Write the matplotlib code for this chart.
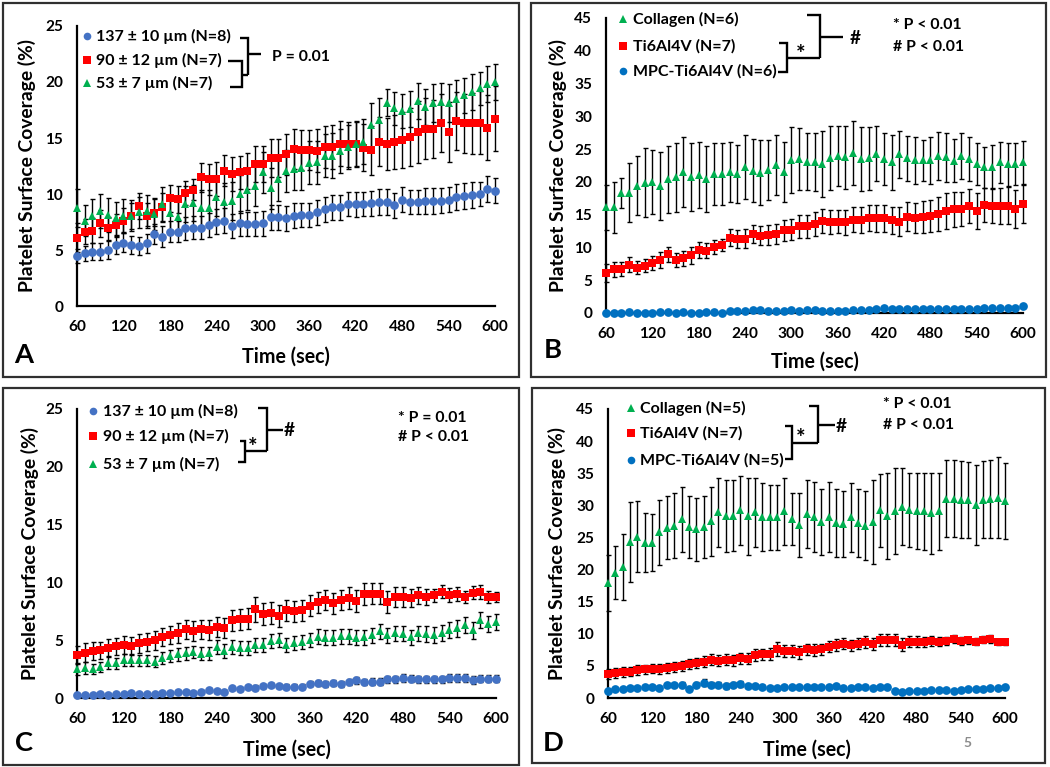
import matplotlib
matplotlib.use("Agg")
import matplotlib.pyplot as plt
from matplotlib.lines import Line2D
from matplotlib.patches import Rectangle

W, H = 1050, 767

TIME = list(range(60, 610, 10))
X_TICKS = [60, 120, 180, 240, 300, 360, 420, 480, 540, 600]

# ---- Panel A: pore size, 137 / 90 / 53 um ----
a_137 = [4.46, 4.7, 4.85, 4.85, 5.0, 5.45, 5.65, 5.45, 5.36, 5.6,
         6.4, 6.2, 6.64, 6.64, 6.93, 7.0, 7.0, 7.23, 7.53, 7.62,
         7.14, 7.38, 7.32, 7.32, 7.38, 7.92, 7.92, 7.83, 8.07, 8.12,
         8.12, 8.36, 8.63, 8.8, 8.8, 9.1, 9.08, 9.1, 9.17, 9.3,
         9.29, 9.0, 9.5, 9.3, 9.3, 9.4, 9.4, 9.4, 9.5, 9.76,
         9.8, 9.9, 10.0, 10.45, 10.3]
a_137_err = [0.65, 0.7, 0.75, 0.75, 0.8, 0.8, 0.85, 0.8, 0.8, 0.85,
             0.9, 0.9, 0.95, 0.95, 1.0, 1.0, 1.0, 1.05, 1.1, 1.1,
             1.05, 1.1, 1.1, 1.05, 1.1, 1.1, 1.1, 1.1, 1.1, 1.1,
             1.1, 1.1, 1.1, 1.1, 1.1, 1.1, 1.1, 1.1, 1.1, 1.15,
             1.15, 1.1, 1.15, 1.1, 1.1, 1.15, 1.15, 1.1, 1.1, 1.15,
             1.15, 1.15, 1.1, 1.2, 1.1]
# same data in A (90 um) and B (Ti6Al4V)
ti_ab = [6.1, 6.64, 6.73, 7.38, 6.93, 7.2, 7.62, 8.04, 8.93, 8.07,
         8.33, 8.8, 9.6, 9.52, 10.1, 10.4, 11.5, 11.3, 11.34, 12.08,
         11.8, 11.93, 12.05, 12.65, 12.68, 13.2, 13.2, 13.54, 14.0, 13.9,
         13.93, 13.87, 14.2, 14.2, 14.5, 14.43, 14.43, 14.14, 13.9, 14.67,
         14.46, 14.67, 14.8, 15.06, 15.54, 15.83, 15.83, 16.37, 15.54, 16.5,
         16.3, 16.3, 16.37, 15.9, 16.7]
ti_ab_err = [1.3, 1.1, 1.1, 1.2, 1.0, 1.0, 1.1, 1.2, 1.2, 1.1,
             1.2, 1.3, 1.2, 1.2, 1.1, 0.9, 1.3, 1.4, 1.5, 1.4,
             1.5, 1.5, 1.6, 1.6, 1.6, 1.7, 1.7, 1.8, 1.8, 1.8,
             1.8, 1.9, 1.9, 2.0, 2.0, 2.0, 2.0, 2.1, 2.2, 2.2,
             2.3, 2.4, 2.5, 2.6, 2.8, 2.7, 2.6, 2.6, 2.7, 2.6,
             2.6, 2.7, 2.8, 2.9, 2.9]
a_53 = [8.72, 7.62, 8.04, 8.5, 8.12, 7.83, 8.07, 8.07, 8.36, 8.5,
        8.2, 9.1, 8.27, 7.98, 9.1, 9.17, 8.72, 8.72, 9.7, 9.3,
        9.4, 9.97, 10.36, 10.74, 11.93, 10.5, 11.3, 12.05, 12.23, 12.3,
        12.8, 12.83, 13.42, 13.42, 13.84, 14.2, 14.5, 14.67, 16.16, 16.6,
        18.15, 17.65, 17.4, 17.56, 18.33, 17.8, 18.1, 18.24, 18.1, 18.45,
        18.8, 19.14, 19.43, 19.8, 20.0]
a_53_err = [1.7, 1.4, 1.5, 1.5, 1.5, 1.5, 1.5, 1.4, 1.4, 1.4,
            1.4, 1.5, 1.5, 1.6, 1.6, 1.6, 1.6, 1.6, 1.7, 1.7,
            1.7, 1.7, 1.8, 1.8, 1.8, 1.8, 1.9, 1.9, 1.9, 1.9,
            1.9, 1.9, 1.9, 2.0, 2.0, 2.0, 2.0, 2.0, 2.0, 2.0,
            1.2, 1.5, 1.5, 1.6, 1.6, 1.6, 1.7, 1.7, 1.7, 1.7,
            1.6, 1.6, 1.5, 1.6, 1.6]

# ---- Panel B: collagen / Ti6Al4V / MPC-Ti6Al4V ----
b_col = [16.1, 16.1, 18.35, 18.35, 19.4, 19.9, 20.0, 19.4, 20.4, 20.7,
         21.5, 20.8, 21.05, 20.4, 21.2, 21.2, 21.56, 21.2, 22.3, 21.7,
         21.4, 21.8, 22.6, 21.5, 23.3, 23.45, 23.1, 23.0, 22.7, 23.6,
         23.95, 23.75, 24.46, 23.5, 23.6, 24.26, 23.5, 23.0, 24.2, 23.6,
         23.3, 23.3, 23.3, 23.95, 23.75, 23.24, 24.0, 23.5, 22.7, 22.2,
         22.3, 23.0, 22.7, 22.7, 23.0]
b_col_err = [3.5, 3.9, 2.3, 4.5, 4.5, 5.2, 4.9, 5.2, 5.1, 5.3,
             5.4, 5.2, 5.1, 5.0, 4.8, 4.8, 4.6, 4.4, 4.9, 4.8,
             5.0, 4.6, 4.6, 4.6, 5.0, 4.7, 4.3, 4.4, 5.0, 4.9,
             4.6, 4.8, 4.9, 4.9, 4.8, 4.2, 3.9, 4.2, 3.6, 3.4,
             3.6, 3.1, 3.6, 3.7, 3.7, 3.3, 3.5, 3.4, 3.2, 3.1,
             3.3, 3.1, 3.3, 3.2, 3.3]
b_mpc = [0.0, 0.05, 0.0, 0.1, 0.05, 0.05, 0.05, 0.1, 0.1, 0.05,
         0.1, 0.05, 0.05, 0.15, 0.15, 0.05, 0.3, 0.3, 0.35, 0.4,
         0.4, 0.35, 0.35, 0.35, 0.4, 0.3, 0.4, 0.4, 0.35, 0.35,
         0.3, 0.3, 0.4, 0.4, 0.45, 0.6, 0.7, 0.6, 0.6, 0.6,
         0.6, 0.65, 0.65, 0.65, 0.65, 0.65, 0.65, 0.65, 0.65, 0.7,
         0.8, 0.8, 0.75, 0.8, 1.0]
b_mpc_err = [0.05, 0.05, 0.05, 0.05, 0.05, 0.05, 0.05, 0.05, 0.05, 0.05,
             0.05, 0.05, 0.05, 0.1, 0.1, 0.05, 0.1, 0.1, 0.1, 0.1,
             0.1, 0.1, 0.1, 0.1, 0.1, 0.1, 0.1, 0.1, 0.1, 0.1,
             0.1, 0.1, 0.1, 0.1, 0.1, 0.1, 0.1, 0.1, 0.1, 0.1,
             0.1, 0.1, 0.1, 0.1, 0.1, 0.1, 0.1, 0.1, 0.1, 0.1,
             0.1, 0.1, 0.1, 0.1, 0.1]

# ---- Panel C: pore size, second set ----
c_137 = [0.26, 0.26, 0.26, 0.32, 0.26, 0.37, 0.37, 0.4, 0.32, 0.37,
         0.37, 0.46, 0.46, 0.52, 0.52, 0.46, 0.52, 0.69, 0.6, 0.55,
         0.84, 0.75, 0.95, 0.89, 1.04, 1.12, 1.04, 0.98, 0.98, 0.98,
         1.24, 1.27, 1.18, 1.27, 1.24, 1.41, 1.53, 1.38, 1.41, 1.41,
         1.61, 1.61, 1.76, 1.67, 1.61, 1.61, 1.61, 1.61, 1.76, 1.76,
         1.76, 1.53, 1.67, 1.67, 1.67]
c_137_err = [0.1, 0.1, 0.1, 0.1, 0.1, 0.1, 0.1, 0.1, 0.1, 0.1,
             0.1, 0.1, 0.1, 0.1, 0.15, 0.15, 0.15, 0.15, 0.15, 0.15,
             0.15, 0.15, 0.2, 0.2, 0.2, 0.2, 0.2, 0.2, 0.2, 0.2,
             0.2, 0.25, 0.25, 0.25, 0.25, 0.25, 0.3, 0.25, 0.3, 0.3,
             0.3, 0.3, 0.35, 0.3, 0.3, 0.3, 0.3, 0.3, 0.35, 0.35,
             0.35, 0.35, 0.3, 0.3, 0.3]
# same data in C (90 um) and D (Ti6Al4V)
ti_cd = [3.72, 3.92, 4.06, 4.12, 4.35, 4.46, 4.58, 4.49, 4.72, 4.84,
         4.98, 5.27, 5.44, 5.65, 5.93, 5.79, 5.93, 5.88, 6.16, 6.08,
         6.71, 6.8, 6.85, 7.66, 7.29, 7.37, 7.09, 7.57, 7.49, 7.57,
         8.0, 8.29, 8.47, 8.18, 8.47, 8.67, 8.38, 9.01, 9.01, 9.01,
         8.32, 8.76, 8.76, 8.67, 8.87, 8.73, 8.87, 9.19, 8.9, 8.96,
         8.73, 9.1, 9.19, 8.73, 8.73]
ti_cd_err = [0.8, 0.8, 0.75, 0.75, 0.75, 0.75, 0.75, 0.8, 0.8, 0.8,
             0.8, 0.8, 0.8, 0.85, 0.85, 0.85, 0.85, 0.85, 0.85, 0.85,
             0.9, 0.9, 0.9, 1.05, 0.95, 0.95, 0.95, 0.9, 0.9, 0.9,
             0.9, 0.9, 0.9, 0.9, 0.9, 0.95, 0.95, 0.95, 0.9, 0.9,
             0.95, 0.85, 0.85, 0.8, 0.75, 0.7, 0.6, 0.55, 0.6, 0.6,
             0.55, 0.55, 0.6, 0.5, 0.45]
c_53 = [2.53, 2.59, 2.53, 2.68, 3.05, 3.0, 3.28, 3.28, 3.25, 3.25,
        3.14, 3.46, 3.63, 3.77, 3.86, 3.97, 3.83, 3.86, 4.41, 4.06,
        4.44, 4.35, 4.35, 4.58, 4.58, 4.93, 4.98, 4.58, 4.78, 4.87,
        5.01, 5.3, 5.21, 5.21, 5.36, 5.36, 5.21, 5.27, 5.44, 5.79,
        5.44, 5.59, 5.56, 5.27, 5.59, 5.56, 5.44, 5.65, 5.85, 6.02,
        6.28, 5.85, 6.74, 6.37, 6.57]
c_53_err = [0.5, 0.5, 0.45, 0.45, 0.5, 0.5, 0.5, 0.5, 0.5, 0.5,
            0.5, 0.55, 0.55, 0.55, 0.55, 0.55, 0.55, 0.55, 0.6, 0.6,
            0.6, 0.6, 0.6, 0.6, 0.6, 0.6, 0.6, 0.6, 0.6, 0.6,
            0.6, 0.65, 0.65, 0.65, 0.65, 0.65, 0.65, 0.65, 0.65, 0.65,
            0.65, 0.65, 0.65, 0.65, 0.65, 0.7, 0.7, 0.7, 0.7, 0.7,
            0.7, 0.75, 0.7, 0.7, 0.7]

# ---- Panel D: collagen / Ti6Al4V / MPC-Ti6Al4V, second set ----
d_col = [17.9, 19.5, 20.4, 24.3, 25.1, 24.2, 24.2, 25.8, 26.5, 26.85,
         27.8, 26.6, 26.3, 26.6, 27.5, 28.9, 28.3, 28.4, 29.2, 28.3,
         28.9, 28.15, 28.15, 28.15, 29.1, 27.9, 26.9, 28.6, 28.15, 27.4,
         28.15, 27.2, 27.1, 28.15, 27.2, 26.85, 27.4, 29.2, 28.4, 29.1,
         29.8, 29.3, 29.1, 29.1, 28.8, 29.1, 31.0, 31.0, 30.9, 30.8,
         30.1, 30.9, 31.0, 31.2, 30.7]
d_col_err = [4.3, 4.1, 5.1, 6.2, 5.5, 4.6, 4.4, 5.1, 4.9, 5.1,
             5.1, 4.8, 4.9, 4.8, 5.4, 5.4, 5.6, 5.5, 5.4, 6.0,
             5.4, 5.25, 5.05, 5.05, 5.2, 4.0, 5.0, 5.3, 5.45, 5.2,
             5.45, 5.3, 5.2, 5.35, 5.3, 5.35, 6.6, 5.7, 6.7, 6.7,
             6.0, 5.8, 5.9, 6.0, 6.3, 6.0, 6.0, 6.0, 6.0, 5.9,
             6.2, 6.0, 6.1, 6.3, 5.9]
d_mpc = [1.09, 1.35, 1.45, 1.6, 1.6, 1.76, 1.76, 1.6, 1.97, 1.97,
         2.1, 1.35, 2.1, 2.4, 2.1, 2.1, 1.87, 2.1, 2.2, 1.87,
         1.87, 1.7, 1.6, 1.5, 1.76, 1.7, 1.7, 1.7, 1.76, 1.7,
         1.76, 1.87, 1.6, 1.6, 1.7, 1.76, 1.6, 1.7, 1.76, 1.09,
         0.98, 1.09, 1.09, 1.09, 1.24, 1.2, 1.24, 1.09, 1.24, 1.35,
         1.45, 1.45, 1.5, 1.5, 1.76]
d_mpc_err = [0.15, 0.15, 0.2, 0.2, 0.2, 0.25, 0.25, 0.25, 0.3, 0.3,
             0.35, 0.2, 0.45, 0.5, 0.45, 0.45, 0.4, 0.45, 0.45, 0.3,
             0.3, 0.25, 0.2, 0.2, 0.25, 0.2, 0.2, 0.2, 0.2, 0.2,
             0.2, 0.2, 0.2, 0.2, 0.2, 0.2, 0.2, 0.2, 0.2, 0.15,
             0.1, 0.1, 0.1, 0.1, 0.1, 0.1, 0.1, 0.1, 0.1, 0.1,
             0.1, 0.1, 0.1, 0.1, 0.1]

SIZE_LABELS_AC = ["137 ± 10 µm (N=8)", "90 ± 12 µm (N=7)", "53 ± 7 µm (N=7)"]
SURF_LABELS_B = ["Collagen (N=6)", "Ti6Al4V (N=7)", "MPC-Ti6Al4V (N=6)"]
SURF_LABELS_D = ["Collagen (N=5)", "Ti6Al4V (N=7)", "MPC-Ti6Al4V (N=5)"]

BLUE_AC = "#4472C4"
BLUE_BD = "#0070C0"
RED = "#FF0000"
GREEN = "#00B050"

plt.rcParams["font.family"] = ["Lato", "DejaVu Sans"]
plt.rcParams["font.weight"] = "bold"

fig = plt.figure(figsize=(W / 100, H / 100), dpi=100)
_renderer = fig.canvas.get_renderer()


def fit_size(s, target_px, base=10.0):
    """Font size that makes string s about target_px wide."""
    t = fig.text(0, 0, s, fontsize=base, fontweight="bold")
    w = t.get_window_extent(renderer=_renderer).width
    t.remove()
    return base * target_px / w


# text sizes matched to widths measured in the reference
LEGEND_SIZE = fit_size("137 ± 10 µm (N=8)", 135)
TICK_SIZE = fit_size("600", 27)
YLAB_SIZE = fit_size("Platelet Surface Coverage (%)", 253)
XLAB_SIZE = fit_size("Time (sec)", 88)
PTEXT_SIZE = fit_size("# P < 0.01", 71)
LETTER_SIZE = fit_size("A", 19)


def fx(x):
    return x / W


def fy(y):
    return 1 - y / H


def polyline(pts, lw=1.7):
    fig.add_artist(Line2D([fx(p[0]) for p in pts], [fy(p[1]) for p in pts],
                          transform=fig.transFigure, color="black", lw=lw,
                          solid_joinstyle="miter", solid_capstyle="butt"))


def ftext(x, y, s, size=None, ha="left", **kw):
    fig.text(fx(x), fy(y), s, ha=ha, va="center",
             fontsize=LEGEND_SIZE if size is None else size,
             fontweight="bold", **kw)


def make_axes(left, right, top, bottom, ymax, ystep):
    ax = fig.add_axes([fx(left), fy(bottom), (right - left) / W, (bottom - top) / H])
    ax.set_xlim(60, 600)
    ax.set_ylim(0, ymax)
    ax.set_xticks(X_TICKS)
    ax.set_yticks(list(range(0, ymax + 1, ystep)))
    for s in ["top", "right"]:
        ax.spines[s].set_visible(False)
    for s in ["left", "bottom"]:
        ax.spines[s].set_linewidth(1.6)
    ax.tick_params(length=0, labelsize=TICK_SIZE, pad=10)
    ax.patch.set_alpha(0)
    return ax


def draw_series(ax, y, err, color, marker, ms):
    # Excel-style: error bars behind the markers
    ax.errorbar(TIME, y, yerr=err, fmt="none", ecolor="black", elinewidth=1.0,
                capsize=1.8, capthick=1.0, zorder=2, clip_on=False)
    ax.plot(TIME, y, linestyle="none", marker=marker, color=color, ms=ms,
            mew=0, zorder=3, clip_on=False)


def legend_rows(x_mark, x_text, ys, labels, styles):
    for y, lab, (marker, color) in zip(ys, labels, styles):
        fig.add_artist(Line2D([fx(x_mark)], [fy(y)], marker=marker, color=color,
                              ms=5.5, mew=0, linestyle="none",
                              transform=fig.transFigure))
        ftext(x_text, y, lab)


def axis_labels(left, right, top, bottom, ylab_x, xlab_y):
    ftext(ylab_x, (top + bottom) / 2, "Platelet Surface Coverage (%)",
          size=YLAB_SIZE, ha="center", rotation=90)
    ftext((left + right) / 2, xlab_y, "Time (sec)", size=XLAB_SIZE, ha="center")


# panel frames
for (x0, y0, x1, y1) in [(3, 3, 519, 377), (531, 3, 1046, 377),
                         (3, 388, 519, 765), (532, 388, 1045, 763)]:
    fig.add_artist(Rectangle((fx(x0), fy(y1)), (x1 - x0) / W, (y1 - y0) / H,
                             transform=fig.transFigure, fill=False,
                             edgecolor="#303030", lw=1.6))

# ---------- A ----------
ax = make_axes(77, 495, 26, 306, 25, 5)
draw_series(ax, a_137, a_137_err, BLUE_AC, "o", 6.3)
draw_series(ax, ti_ab, ti_ab_err, RED, "s", 6)
draw_series(ax, a_53, a_53_err, GREEN, "^", 6.3)
axis_labels(77, 495, 26, 306, 27, 357)
legend_rows(87, 96, [36, 60, 83], SIZE_LABELS_AC,
            [("o", BLUE_AC), ("s", RED), ("^", GREEN)])
polyline([(240, 38), (248, 38), (248, 75)])
polyline([(248, 54), (261, 54)])
polyline([(228, 61), (242, 61), (242, 87), (230, 87)])
polyline([(242, 75), (248, 75)])
ftext(272, 57, "P = 0.01", size=PTEXT_SIZE)
ftext(24, 355, "A", size=LETTER_SIZE, ha="center")

# ---------- B ----------
ax = make_axes(606, 1023, 18, 313, 45, 5)
draw_series(ax, b_mpc, b_mpc_err, BLUE_BD, "o", 6.3)
draw_series(ax, ti_ab, ti_ab_err, RED, "s", 6)
draw_series(ax, b_col, b_col_err, GREEN, "^", 6.3)
axis_labels(606, 1023, 18, 313, 558, 362)
legend_rows(623, 633, [19, 46, 71], SURF_LABELS_B,
            [("^", GREEN), ("s", RED), ("o", BLUE_BD)])
polyline([(807, 15), (820, 15), (820, 58)])
polyline([(820, 37), (843, 37)])
polyline([(779, 43), (787, 43), (787, 72), (778, 72)])
polyline([(787, 58), (820, 58)])
ftext(850, 38, "#", size=PTEXT_SIZE * 1.2)
ftext(796, 54, "*", size=PTEXT_SIZE * 1.4)
ftext(893, 25, "* P < 0.01", size=PTEXT_SIZE)
ftext(893, 47, "# P < 0.01", size=PTEXT_SIZE)
ftext(553, 350, "B", size=LETTER_SIZE, ha="center")

# ---------- C ----------
ax = make_axes(77, 496, 409, 698, 25, 5)
draw_series(ax, c_137, c_137_err, BLUE_AC, "o", 6.3)
draw_series(ax, ti_cd, ti_cd_err, RED, "s", 6)
draw_series(ax, c_53, c_53_err, GREEN, "^", 6.3)
axis_labels(77, 496, 409, 698, 30, 750)
legend_rows(93, 103, [411, 436, 464], SIZE_LABELS_AC,
            [("o", BLUE_AC), ("s", RED), ("^", GREEN)])
polyline([(258, 408), (267, 408), (267, 451)])
polyline([(267, 430), (283, 430)])
polyline([(240, 441), (245, 441), (245, 462), (238, 462)])
polyline([(245, 451), (267, 451)])
ftext(284, 431, "#", size=PTEXT_SIZE * 1.2)
ftext(248, 448, "*", size=PTEXT_SIZE * 1.4)
ftext(398, 418, "* P = 0.01", size=PTEXT_SIZE)
ftext(398, 437, "# P < 0.01", size=PTEXT_SIZE)
ftext(24, 743, "C", size=LETTER_SIZE, ha="center")

# ---------- D ----------
ax = make_axes(608, 1005, 409, 698, 45, 5)
draw_series(ax, d_mpc, d_mpc_err, BLUE_BD, "o", 6.3)
draw_series(ax, ti_cd, ti_cd_err, RED, "s", 6)
draw_series(ax, d_col, d_col_err, GREEN, "^", 6.3)
axis_labels(608, 1005, 409, 698, 557, 750)
legend_rows(631, 640, [408, 433, 460], SURF_LABELS_D,
            [("^", GREEN), ("s", RED), ("o", BLUE_BD)])
polyline([(809, 406), (818, 406), (818, 443)])
polyline([(818, 425), (835, 425)])
polyline([(785, 426), (792, 426), (792, 459), (785, 459)])
polyline([(792, 443), (818, 443)])
ftext(836, 426, "#", size=PTEXT_SIZE * 1.2)
ftext(796, 439, "*", size=PTEXT_SIZE * 1.4)
ftext(883, 404, "* P < 0.01", size=PTEXT_SIZE)
ftext(883, 425, "# P < 0.01", size=PTEXT_SIZE)
ftext(553, 743, "D", size=LETTER_SIZE, ha="center")

ftext(967, 743, "5", size=10, ha="center", color="#8c8c8c")

fig.savefig("out.png", dpi=100)
